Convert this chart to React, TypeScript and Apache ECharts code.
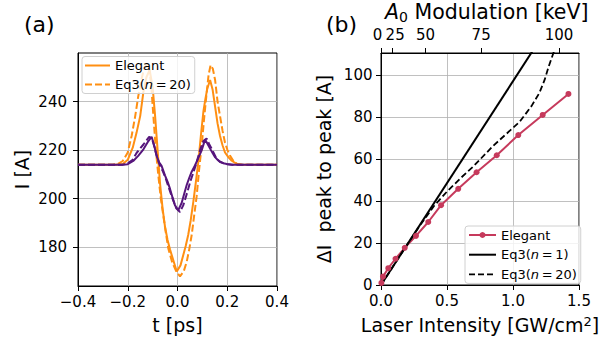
import React, { useEffect, useRef } from 'react';
import * as echarts from 'echarts';

const FONT = 'DejaVu Sans';

// ---------- Panel (a): current profiles ----------
const tOrangeElegant = [-0.4, -0.25, -0.22, -0.2, -0.18, -0.165, -0.15, -0.137, -0.125, -0.112, -0.1, -0.09, -0.08, -0.07, -0.06, -0.05, -0.04, -0.03, -0.015, -0.003, 0.012, 0.023, 0.033, 0.043, 0.053, 0.064, 0.074, 0.084, 0.094, 0.104, 0.112, 0.12, 0.131, 0.141, 0.151, 0.161, 0.171, 0.181, 0.191, 0.205, 0.218, 0.238, 0.26, 0.4];
const iOrangeElegant = [214, 214, 214.3, 216, 221, 227, 234, 244, 250, 253, 246, 234, 220, 206, 196, 188.3, 183, 179, 174, 170, 172.5, 176.7, 180.5, 185, 191, 199, 207, 215.4, 226, 235.8, 241, 245.4, 248.9, 245, 238, 231, 225.8, 222, 219, 217, 215.6, 214.3, 214, 214];

const tOrangeEq3 = [-0.4, -0.26, -0.24, -0.22, -0.2, -0.184, -0.17, -0.158, -0.145, -0.135, -0.124, -0.113, -0.105, -0.097, -0.087, -0.077, -0.067, -0.057, -0.047, -0.037, -0.022, -0.005, 0.01, 0.025, 0.037, 0.047, 0.057, 0.067, 0.077, 0.087, 0.097, 0.107, 0.117, 0.125, 0.133, 0.142, 0.151, 0.161, 0.171, 0.181, 0.191, 0.201, 0.211, 0.225, 0.24, 0.26, 0.4];
const iOrangeEq3 = [214, 214, 214.3, 215.5, 219, 226, 234, 242, 249, 253.5, 255.5, 253, 246, 234, 220, 209.5, 200, 193, 186, 179.5, 174, 170, 168, 170, 174, 179, 185, 193, 201, 212, 221.6, 233, 243.4, 251, 255, 253.5, 249, 240, 234, 228, 223, 220, 217.7, 215.5, 214.3, 214, 214];

const tPurpleElegant = [-0.4, -0.22, -0.2, -0.178, -0.158, -0.137, -0.117, -0.104, -0.094, -0.084, -0.074, -0.064, -0.05, -0.04, -0.03, -0.02, -0.01, 0.003, 0.017, 0.027, 0.037, 0.047, 0.057, 0.067, 0.077, 0.087, 0.097, 0.111, 0.121, 0.131, 0.141, 0.151, 0.161, 0.171, 0.185, 0.198, 0.22, 0.4];
const iPurpleElegant = [214, 214, 214.2, 215.5, 217.6, 220.3, 223.7, 225.5, 222, 217.6, 215, 213.5, 209.5, 207, 204, 200.5, 197.2, 195.2, 198.3, 202, 205.6, 208.5, 211.1, 213, 215.2, 217.5, 219.9, 224.4, 222.5, 220.6, 218.8, 217.1, 216, 215.2, 214.6, 214.3, 214, 214];

const tPurpleEq3 = [-0.4, -0.22, -0.2, -0.18, -0.164, -0.137, -0.114, -0.102, -0.092, -0.082, -0.072, -0.06, -0.048, -0.035, -0.02, -0.005, 0.01, 0.023, 0.033, 0.043, 0.053, 0.064, 0.074, 0.084, 0.094, 0.104, 0.117, 0.127, 0.137, 0.147, 0.157, 0.17, 0.185, 0.2, 0.22, 0.4];
const iPurpleEq3 = [214, 214, 214.5, 216, 218.9, 222.3, 225.5, 224.5, 221, 217, 214, 211.5, 208.5, 204.5, 200, 196, 194.5, 197.2, 200.5, 204, 207.5, 210.8, 214, 217.6, 221, 223.7, 224.8, 222.5, 220.6, 218.5, 216.4, 215.2, 214.5, 214.2, 214, 214];

const tTicksA = [-0.4, -0.2, 0, 0.2, 0.4];
const iTicksA = [180, 200, 220, 240];

// ---------- Panel (b): peak-to-peak vs laser intensity ----------
const intensityElegant = [0.003, 0.015, 0.055, 0.11, 0.18, 0.265, 0.358, 0.455, 0.585, 0.724, 0.877, 1.04, 1.225, 1.42];
const deltaElegant = [1, 4, 8, 12.5, 17.7, 23.4, 30, 38, 45.8, 53.7, 61.8, 71.4, 81, 91];

const intensityEq3n1 = [0, 1.2];
const deltaEq3n1 = [0, 116.5];

const intensityEq3n20 = [0, 0.2, 0.3, 0.4, 0.5, 0.6, 0.7, 0.85, 0.95, 1.05, 1.14, 1.2, 1.24, 1.27, 1.31, 1.33];
const deltaEq3n20 = [0, 19.4, 28.8, 37.5, 44.5, 50.7, 56.5, 66.3, 72, 77.7, 85.2, 91.5, 97.8, 104, 111.2, 115];

const deltaTicksB = [0, 20, 40, 60, 80, 100];
const keVTicks = [0, 25, 50, 75, 100];
const intensityAt100keV = 1.349; // GW/cm^2 at A0 = 100 keV (I ∝ A0²)

const zip = (xs: number[], ys: number[]) => xs.map((x, i) => [x, ys[i]]);

const ORANGE = '#ff8f12';
const PURPLE = '#56157c';
const CRIMSON = '#c63a5c';
const DASH_A = [7, 3];
const DASH_B = [6, 3];

const legendNames: Record<string, string> = {
  aEl: 'Elegant',
  aEq20: 'Eq3({i|n}\u2009=\u200920)',
  bEl: 'Elegant',
  bEq1: 'Eq3({i|n}\u2009=\u20091)',
  bEq20: 'Eq3({i|n}\u2009=\u200920)',
};

const fmtSigned = (v: number) => (v < 0 ? '\u2212' : '') + Math.abs(v).toFixed(1);

export default function App() {
  const ref = useRef<HTMLDivElement>(null);
  useEffect(() => {
    if (!ref.current) return;
    const chart = echarts.init(ref.current, undefined, { renderer: 'svg' });
    const keVPos = keVTicks.map((k) => intensityAt100keV * (k / 100) * (k / 100));
    const keVIndex = (v: number) => {
      let best = 0;
      keVPos.forEach((p, i) => { if (Math.abs(p - v) < Math.abs(keVPos[best] - v)) best = i; });
      return best;
    };
    // "0" and "25" sit side by side; nudge them apart slightly, as in the reference ("025")
    const keVLabel = (v: number) => {
      const i = keVIndex(v);
      if (i === 0) return '{l|' + keVTicks[i] + '}';
      if (i === 1) return '{r|' + keVTicks[i] + '}';
      return String(keVTicks[i]);
    };
    const keVPosMain = keVPos.filter((_, i) => i !== 1);
    const keVPosSecond = [keVPos[1]];

    const tickLabel = { fontFamily: FONT, fontSize: 15, color: '#000' };
    const keVRich = {
      l: { fontFamily: FONT, fontSize: 15, color: '#000', padding: [0, 7, 0, 0] },
      r: { fontFamily: FONT, fontSize: 15, color: '#000', padding: [0, 0, 0, 6] },
    };
    const nameStyle = { fontFamily: FONT, fontSize: 19, color: '#000' };
    const splitLine = { show: true, lineStyle: { color: '#b0b0b0', width: 0.8 } };
    const axisLine = { show: true, onZero: false, lineStyle: { color: '#000', width: 1 } };
    const axisTick = { show: true, inside: false, length: 5, lineStyle: { color: '#000', width: 1 } };
    const hiddenSymbol = { color: 'rgba(0,0,0,0)', borderWidth: 0, opacity: 0 };
    const legendCommon = {
      orient: 'vertical',
      selectedMode: false,
      backgroundColor: 'rgba(255,255,255,0.8)',
      borderColor: '#d0d0d0',
      borderWidth: 1,
      borderRadius: 3,
      formatter: (n: string) => legendNames[n] ?? n,
      textStyle: {
        fontFamily: FONT,
        fontSize: 13,
        lineHeight: 14,
        color: '#000',
        rich: { i: { fontFamily: FONT, fontSize: 13, lineHeight: 14, fontStyle: 'italic', color: '#000' } },
      },
    };

    chart.setOption({
      animation: false,
      backgroundColor: '#fff',
      grid: [
        { left: 78, top: 53, width: 199, height: 234, show: true, borderColor: '#000', borderWidth: 1, backgroundColor: 'transparent' },
        { left: 381, top: 53, width: 198, height: 234, show: true, borderColor: '#000', borderWidth: 1, backgroundColor: 'transparent' },
      ],
      graphic: [
        { type: 'text', left: 24, top: 13, style: { text: '(a)', fontFamily: FONT, fontSize: 22, fill: '#000' } },
        { type: 'text', left: 326, top: 13, style: { text: '(b)', fontFamily: FONT, fontSize: 22, fill: '#000' } },
        {
          type: 'text', left: 385, top: 1,
          style: {
            text: '{i|A}{s|0}{a| Modulation [keV]}',
            rich: {
              i: { fontFamily: FONT, fontSize: 20.5, fontStyle: 'italic', fill: '#000', lineHeight: 24 },
              s: { fontFamily: FONT, fontSize: 14, fill: '#000', verticalAlign: 'bottom', lineHeight: 24, padding: [6, 0, 0, 0] },
              a: { fontFamily: FONT, fontSize: 20.5, fill: '#000', lineHeight: 24 },
            },
          },
        },
      ],
      legend: [
        {
          ...legendCommon,
          left: 82,
          top: 56.5,
          itemWidth: 25,
          itemHeight: 14,
          itemGap: 5,
          padding: [2, 4, 2, 2],
          data: [
            { name: 'aEl', itemStyle: hiddenSymbol, lineStyle: { color: ORANGE, width: 2, type: 'solid' } },
            { name: 'aEq20', itemStyle: hiddenSymbol, lineStyle: { color: ORANGE, width: 2, type: DASH_A } },
          ],
        },
        {
          ...legendCommon,
          left: 465,
          top: 226,
          itemWidth: 27,
          itemHeight: 7.5,
          itemGap: 5.7,
          padding: [2, 4, 2, 3],
          data: [
            { name: 'bEl', itemStyle: { color: CRIMSON }, lineStyle: { color: CRIMSON, width: 2, type: 'solid' } },
            { name: 'bEq1', itemStyle: hiddenSymbol, lineStyle: { color: '#000', width: 2, type: 'solid' } },
            { name: 'bEq20', itemStyle: hiddenSymbol, lineStyle: { color: '#000', width: 1.8, type: DASH_B } },
          ],
        },
      ],
      xAxis: [
        {
          gridIndex: 0, type: 'value', min: -0.4, max: 0.4, interval: 0.2,
          name: 't [ps]', nameLocation: 'middle', nameGap: 29, nameTextStyle: nameStyle,
          axisLine, axisTick,
          axisLabel: { ...tickLabel, margin: 8, formatter: fmtSigned, customValues: tTicksA },
          splitLine,
        },
        {
          gridIndex: 1, type: 'value', min: 0, max: 1.5, interval: 0.5,
          name: '{a|Laser Intensity [GW/cm}{s|2}{a|]}', nameLocation: 'middle', nameGap: 30,
          nameTextStyle: {
            ...nameStyle,
            rich: {
              a: { fontFamily: FONT, fontSize: 19, color: '#000' },
              s: { fontFamily: FONT, fontSize: 13, color: '#000', verticalAlign: 'top', padding: [0, 0, 6, 0] },
            },
          },
          axisLine, axisTick,
          axisLabel: { ...tickLabel, margin: 8, formatter: (v: number) => v.toFixed(1) },
          splitLine,
        },
        {
          gridIndex: 1, type: 'value', min: 0, max: 1.5, position: 'top',
          axisLine,
          axisTick: { ...axisTick, customValues: keVPos },
          axisLabel: {
            ...tickLabel, margin: 11, customValues: keVPosMain, showMinLabel: true, showMaxLabel: true, hideOverlap: false,
            formatter: keVLabel, rich: keVRich,
          },
          splitLine: { show: false },
        },
        {
          gridIndex: 1, type: 'value', min: 0, max: 1.5, position: 'top', offset: 0,
          axisLine: { show: false },
          axisTick: { show: false },
          axisLabel: {
            ...tickLabel, margin: 11, customValues: keVPosSecond, showMinLabel: true, showMaxLabel: true, hideOverlap: false,
            formatter: keVLabel, rich: keVRich,
          },
          splitLine: { show: false },
        },
      ],
      yAxis: [
        {
          gridIndex: 0, type: 'value', min: 164, max: 260,
          name: 'I [A]', nameLocation: 'middle', nameGap: 47, nameTextStyle: nameStyle,
          axisLine,
          axisTick: { ...axisTick, customValues: iTicksA },
          axisLabel: { ...tickLabel, margin: 11, customValues: iTicksA },
          splitLine,
        },
        {
          gridIndex: 1, type: 'value', min: 0, max: 110.5,
          name: '\u0394I  peak to peak [A]', nameLocation: 'middle', nameGap: 48, nameTextStyle: nameStyle,
          axisLine,
          axisTick: { ...axisTick, customValues: deltaTicksB },
          axisLabel: { ...tickLabel, margin: 8.5, customValues: deltaTicksB },
          splitLine,
        },
      ],
      series: [
        { name: 'aEl', type: 'line', xAxisIndex: 0, yAxisIndex: 0, data: zip(tOrangeElegant, iOrangeElegant), showSymbol: false, symbol: 'none', color: ORANGE, lineStyle: { color: ORANGE, width: 2 } },
        { name: 'aEq20', type: 'line', xAxisIndex: 0, yAxisIndex: 0, data: zip(tOrangeEq3, iOrangeEq3), showSymbol: false, symbol: 'none', color: ORANGE, lineStyle: { color: ORANGE, width: 2, type: DASH_A } },
        { name: 'aPurpleEl', type: 'line', xAxisIndex: 0, yAxisIndex: 0, data: zip(tPurpleElegant, iPurpleElegant), showSymbol: false, symbol: 'none', color: PURPLE, lineStyle: { color: PURPLE, width: 2 } },
        { name: 'aPurpleEq20', type: 'line', xAxisIndex: 0, yAxisIndex: 0, data: zip(tPurpleEq3, iPurpleEq3), showSymbol: false, symbol: 'none', color: PURPLE, lineStyle: { color: PURPLE, width: 2, type: DASH_A } },
        { name: 'bEl', type: 'line', xAxisIndex: 1, yAxisIndex: 1, data: zip(intensityElegant, deltaElegant), symbol: 'circle', symbolSize: 6, showSymbol: true, color: CRIMSON, itemStyle: { color: CRIMSON }, lineStyle: { color: CRIMSON, width: 2 } },
        { name: 'bEq1', type: 'line', xAxisIndex: 1, yAxisIndex: 1, data: zip(intensityEq3n1, deltaEq3n1), symbol: 'none', showSymbol: false, color: '#000', lineStyle: { color: '#000', width: 2 } },
        { name: 'bEq20', type: 'line', xAxisIndex: 1, yAxisIndex: 1, data: zip(intensityEq3n20, deltaEq3n20), symbol: 'none', showSymbol: false, color: '#000', lineStyle: { color: '#000', width: 1.8, type: DASH_B } },
      ],
    });
    return () => chart.dispose();
  }, []);
  return <div ref={ref} style={{ position: 'fixed', left: 0, top: 0, width: 606, height: 339, background: '#fff' }} />;
}
